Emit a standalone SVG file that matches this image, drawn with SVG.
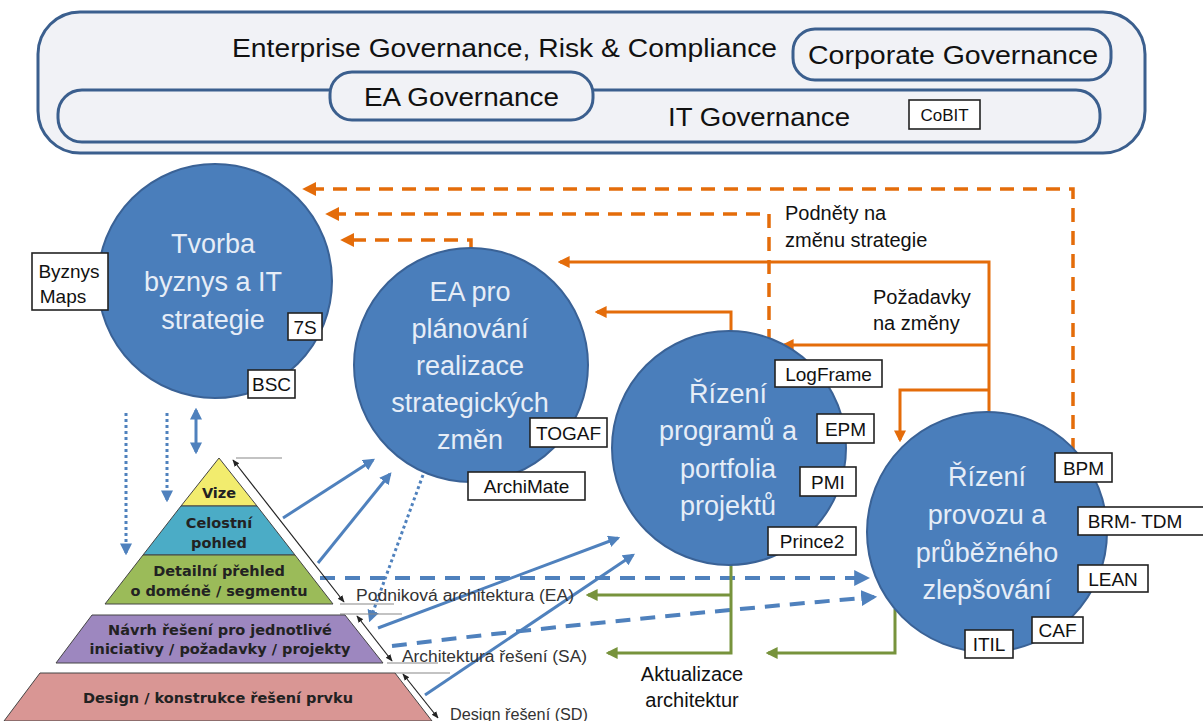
<svg xmlns="http://www.w3.org/2000/svg" width="1203" height="721" viewBox="0 0 1203 721">
<defs>
<style>
.gov{fill:#f1f2f6;stroke:#3b5f8e;stroke-width:3}
.govt{font-family:"Liberation Sans",Arial,sans-serif;fill:#111;font-size:25px}
.circ{fill:#4a7ebb;stroke:#3a6296;stroke-width:2}
.ct{font-family:"Liberation Sans",Arial,sans-serif;fill:#e6edf7;font-size:27px;text-anchor:middle}
.tag rect{fill:#fff;stroke:#222;stroke-width:1.6}
.tag text{font-family:"Liberation Sans",Arial,sans-serif;fill:#111;font-size:19px;text-anchor:middle}
.pt{font-family:"DejaVu Sans",Verdana,sans-serif;font-weight:bold;fill:#222;font-size:14.5px;text-anchor:middle}
.pl{stroke:#444;stroke-width:1}
.lvl{font-family:"Liberation Sans",Arial,sans-serif;fill:#333;font-size:16px}
.lbl{font-family:"Liberation Sans",Arial,sans-serif;fill:#111;font-size:20px}
.or{fill:none;stroke:#e46c0a;stroke-width:3;marker-end:url(#ao)}
.ord{fill:none;stroke:#e46c0a;stroke-width:3.5;stroke-dasharray:14 9;marker-end:url(#ao)}
.bl{fill:none;stroke:#4f81bd;stroke-width:3;marker-end:url(#ab)}
.bld{fill:none;stroke:#4f81bd;stroke-width:4;stroke-dasharray:15 10;marker-end:url(#ab)}
.blt{fill:none;stroke:#4f81bd;stroke-width:3;stroke-dasharray:3 3;marker-end:url(#ab)}
.gr{fill:none;stroke:#77933c;stroke-width:3;marker-end:url(#ag)}
.bk{fill:none;stroke:#222;stroke-width:1.2;marker-start:url(#ak);marker-end:url(#ak)}
.hl{stroke:#888;stroke-width:1.2}
</style>
<marker id="ao" viewBox="0 0 10 10" refX="8" refY="5" markerWidth="4" markerHeight="4" orient="auto-start-reverse"><path d="M0,0 L10,5 L0,10 z" fill="#e46c0a"/></marker>
<marker id="ab" viewBox="0 0 10 10" refX="8" refY="5" markerWidth="4" markerHeight="4" orient="auto-start-reverse"><path d="M0,0 L10,5 L0,10 z" fill="#4f81bd"/></marker>
<marker id="ag" viewBox="0 0 10 10" refX="8" refY="5" markerWidth="4" markerHeight="4" orient="auto-start-reverse"><path d="M0,0 L10,5 L0,10 z" fill="#77933c"/></marker>
<marker id="ak" viewBox="0 0 10 10" refX="9" refY="5" markerWidth="6" markerHeight="6" orient="auto-start-reverse"><path d="M0,1 L10,5 L0,9 z" fill="#222"/></marker>
</defs>
<rect width="1203" height="721" fill="#fff"/>

<g id="governance">
<rect class="gov" x="38" y="12" width="1107" height="141" rx="42"/>
<text class="govt" x="232" y="57" textLength="545" lengthAdjust="spacingAndGlyphs">Enterprise Governance, Risk &amp; Compliance</text>
<rect class="gov" x="58" y="90" width="1042" height="52" rx="24"/>
<text class="govt" x="668" y="126" textLength="182" lengthAdjust="spacingAndGlyphs">IT Governance</text>
<rect class="gov" x="793" y="29" width="318" height="51" rx="22"/>
<text class="govt" x="808" y="64" textLength="290" lengthAdjust="spacingAndGlyphs">Corporate Governance</text>
<rect class="gov" x="330" y="72" width="263" height="48" rx="22"/>
<text class="govt" x="364" y="106" textLength="195" lengthAdjust="spacingAndGlyphs">EA Governance</text>
<g class="tag"><rect x="909" y="100" width="71" height="29"/><text x="944.5" y="121" style="font-size:17px">CoBIT</text></g>
</g>

<g id="connectors">
<path class="ord" d="M1073,452 V189 H305"/>
<path class="ord" d="M769,343 V214 H328"/>
<path class="ord" d="M471,250 V240 H343"/>
<path class="or" d="M989,414 V262 H560"/>
<path class="or" d="M731,333 V312 H597"/>
<path class="or" d="M989,345 H784"/>
<path class="or" d="M989,390 H900 V440"/>
<path class="blt" d="M126,413 V553"/>
<path class="blt" d="M167,413 V500"/>
<path fill="none" stroke="#4f81bd" stroke-width="3" marker-start="url(#ab)" marker-end="url(#ab)" d="M196,410 V452"/>
<path class="bl" d="M283,518 L373,460"/>
<path class="bl" d="M318,563 L390,474"/>
<path class="blt" d="M423,475 L370,620"/>
<path class="bl" d="M378,628 L618,538"/>
<path class="bl" d="M425,695 L633,555"/>
<path class="bld" d="M320,578 H867"/>
<path class="bld" d="M392,646 C520,630 700,612 874,597"/>
<path class="gr" d="M731,562 V653 H608"/>
<path class="gr" d="M731,595 H588"/>
<path class="gr" d="M895,609 V653 H768"/>
<path class="bk" d="M233,460 L344,602"/>
<path class="bk" d="M357,616 L392,661"/>
<path class="bk" d="M403,674 L438,718"/>
<line class="hl" x1="236" y1="458" x2="282" y2="458"/>
<line class="hl" x1="340" y1="604" x2="394" y2="604"/>
<line class="hl" x1="340" y1="614" x2="402" y2="614"/>
<line class="hl" x1="387" y1="663" x2="438" y2="663"/>
<line class="hl" x1="395" y1="673" x2="450" y2="673"/>
</g>

<g id="pyramid">
<polygon points="219,458 257,506 181,506" fill="#f2ec6e" class="pl"/>
<polygon points="181,506 257,506 295,555 143,555" fill="#4bacc6" class="pl"/>
<polygon points="143,555 295,555 333,604 105,604" fill="#9bbb59" class="pl"/>
<polygon points="92,615 345,615 383,663 56,663" fill="#9d87bf" class="pl"/>
<polygon points="40,673 395,673 432,721 4,721" fill="#d99694" class="pl"/>
<text class="pt" x="219" y="498">Vize</text>
<text class="pt" x="219" y="528">Celostní</text>
<text class="pt" x="219" y="548">pohled</text>
<text class="pt" x="219" y="576">Detailní přehled</text>
<text class="pt" x="219" y="596">o doméně / segmentu</text>
<text class="pt" x="220" y="635">Návrh řešení pro jednotlivé</text>
<text class="pt" x="220" y="654">iniciativy / požadavky / projekty</text>
<text class="pt" x="218" y="703">Design / konstrukce řešení prvku</text>
<text class="lvl" x="356" y="601" textLength="218" lengthAdjust="spacingAndGlyphs">Podniková architektura (EA)</text>
<text class="lvl" x="402" y="662" textLength="185" lengthAdjust="spacingAndGlyphs">Architektura řešení (SA)</text>
<text class="lvl" x="450" y="720" textLength="138" lengthAdjust="spacingAndGlyphs">Design řešení (SD)</text>
</g>

<g id="strategie">
<circle class="circ" cx="215" cy="281" r="117"/>
<text class="ct" x="213" y="253">Tvorba</text>
<text class="ct" x="213" y="291">byznys a IT</text>
<text class="ct" x="213" y="329">strategie</text>
<g class="tag"><rect x="32" y="253" width="76" height="57"/><text x="69" y="278">Byznys</text><text x="63" y="303">Maps</text></g>
<g class="tag"><rect x="288" y="313" width="34" height="27"/><text x="305" y="334">7S</text></g>
<g class="tag"><rect x="248" y="370" width="47" height="28"/><text x="271.5" y="391">BSC</text></g>
</g>

<g id="ea-planovani">
<circle class="circ" cx="471" cy="365" r="117"/>
<text class="ct" x="470" y="301">EA pro</text>
<text class="ct" x="470" y="338">plánování</text>
<text class="ct" x="470" y="375">realizace</text>
<text class="ct" x="470" y="412">strategických</text>
<text class="ct" x="470" y="449">změn</text>
<g class="tag"><rect x="530" y="418" width="77" height="29"/><text x="568.5" y="440">TOGAF</text></g>
<g class="tag"><rect x="468" y="472" width="117" height="28"/><text x="526.5" y="493">ArchiMate</text></g>
</g>

<g id="rizeni-programu">
<circle class="circ" cx="729" cy="448" r="117"/>
<text class="ct" x="728" y="403">Řízení</text>
<text class="ct" x="728" y="440">programů a</text>
<text class="ct" x="728" y="478">portfolia</text>
<text class="ct" x="728" y="515">projektů</text>
<g class="tag"><rect x="775" y="360" width="107" height="27"/><text x="828.5" y="381">LogFrame</text></g>
<g class="tag"><rect x="817" y="414" width="57" height="29"/><text x="845.5" y="436">EPM</text></g>
<g class="tag"><rect x="800" y="467" width="56" height="29"/><text x="828" y="489">PMI</text></g>
<g class="tag"><rect x="768" y="527" width="88" height="28"/><text x="812" y="548">Prince2</text></g>
</g>

<g id="rizeni-provozu">
<circle class="circ" cx="987" cy="532" r="120"/>
<text class="ct" x="987" y="486">Řízení</text>
<text class="ct" x="987" y="524">provozu a</text>
<text class="ct" x="987" y="562">průběžného</text>
<text class="ct" x="987" y="599">zlepšování</text>
<g class="tag"><rect x="1055" y="453" width="57" height="29"/><text x="1083.5" y="475">BPM</text></g>
<g class="tag"><rect x="1078" y="507" width="128" height="28"/><text x="1135" y="528">BRM- TDM</text></g>
<g class="tag"><rect x="1078" y="565" width="70" height="27"/><text x="1113" y="586">LEAN</text></g>
<g class="tag"><rect x="1032" y="617" width="51" height="26"/><text x="1057.5" y="637">CAF</text></g>
<g class="tag"><rect x="965" y="630" width="48" height="28"/><text x="989" y="651">ITIL</text></g>
</g>

<g id="labels">
<text class="lbl" x="785" y="220">Podněty na</text>
<text class="lbl" x="785" y="247">změnu strategie</text>
<text class="lbl" x="873" y="304">Požadavky</text>
<text class="lbl" x="873" y="330">na změny</text>
<text class="lbl" x="692" y="681" text-anchor="middle">Aktualizace</text>
<text class="lbl" x="692" y="707" text-anchor="middle">architektur</text>
</g>
</svg>
